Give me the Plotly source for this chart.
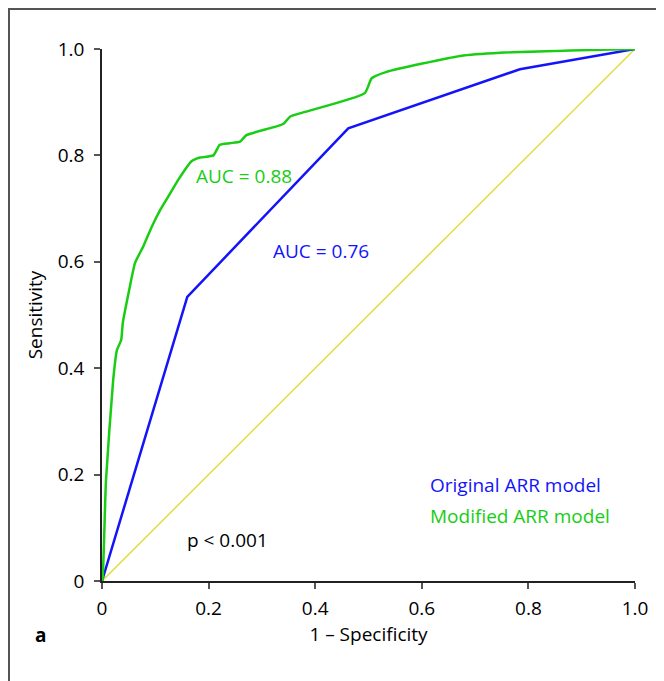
import plotly.graph_objects as go

# ROC curve points (1 - specificity, sensitivity)
modified_fpr = [0.0, 0.001, 0.0075, 0.021, 0.028, 0.036, 0.039, 0.051, 0.062, 0.077,
                0.093, 0.109, 0.124, 0.143, 0.168, 0.184, 0.209, 0.221, 0.240, 0.259,
                0.271, 0.340, 0.353, 0.371, 0.493, 0.506, 0.534, 0.672, 0.747, 1.0]
modified_tpr = [0.0, 0.002, 0.190, 0.378, 0.434, 0.453, 0.485, 0.547, 0.598, 0.628,
                0.665, 0.697, 0.722, 0.754, 0.789, 0.796, 0.800, 0.820, 0.823, 0.826,
                0.838, 0.859, 0.873, 0.879, 0.917, 0.945, 0.957, 0.987, 0.993, 1.0]

original_fpr = [0.0, 0.160, 0.462, 0.784, 1.0]
original_tpr = [0.0, 0.534, 0.851, 0.962, 1.0]

chance = [0.0, 1.0]

tick_vals = [0, 0.2, 0.4, 0.6, 0.8, 1.0]
tick_text = ["0", "0.2", "0.4", "0.6", "0.8", "1.0"]
y_tick_text = ["0", "0.2", "0.4", "0.6", "0.8", "1.0"]

GREEN = "rgb(25,205,20)"
BLUE = "rgb(20,20,250)"
YELLOW = "rgb(222,222,60)"
FONT = "Open Sans"
FS = 19

# page has an 8px body margin, so the figure is laid out 8px smaller
W, H = 656, 673
ML, MR, MT, MB = 94, 29, 41, 100
PW, PH = W - ML - MR, H - MT - MB

fig = go.Figure()
fig.add_trace(go.Scatter(x=chance, y=chance, mode="lines",
                         line={"color": YELLOW, "width": 1.5}))
fig.add_trace(go.Scatter(x=original_fpr, y=original_tpr, mode="lines",
                         line={"color": BLUE, "width": 2.5}))
fig.add_trace(go.Scatter(x=modified_fpr, y=modified_tpr, mode="lines",
                         line={"color": GREEN, "width": 2.5, "shape": "spline",
                               "smoothing": 0.5}))

notes = [
    (0.173, 0.761, "AUC = 0.88", GREEN),
    (0.317, 0.620, "AUC = 0.76", BLUE),
    (0.612, 0.180, "Original ARR model", BLUE),
    (0.612, 0.122, "Modified ARR model", GREEN),
    (0.156, 0.077, "p &lt; 0.001", "black"),
]
for x, y, txt, col in notes:
    fig.add_annotation(x=x, y=y, xref="x", yref="y", text=txt, showarrow=False,
                       xanchor="left", yanchor="middle",
                       font={"color": col, "size": FS, "family": FONT})

fig.add_annotation(x=(32 - ML) / PW, y=(H - MB - 627) / PH, xref="paper", yref="paper",
                   text="<b>a</b>", showarrow=False, xanchor="center", yanchor="middle",
                   font={"color": "black", "size": FS, "family": FONT})

# frame around the panel (only left and top edges are visible in the crop)
fig.add_shape(type="rect", xref="paper", yref="paper",
              x0=(1 - ML) / PW, x1=1.3, y0=-0.4, y1=(H - MB - 1) / PH,
              line={"color": "#555555", "width": 2})

axis_common = dict(range=[0, 1], tickvals=tick_vals, showgrid=False, zeroline=False,
                   showline=True, linecolor="#222222", linewidth=1.5,
                   ticks="outside", ticklen=6, tickcolor="#555555", tickwidth=1.5,
                   tickfont={"size": FS, "family": FONT, "color": "black"})

fig.update_xaxes(ticktext=tick_text, ticklabelstandoff=3,
                 title={"text": "1 – Specificity", "standoff": 8,
                        "font": {"size": FS, "family": FONT, "color": "black"}},
                 **axis_common)
fig.update_yaxes(ticktext=y_tick_text, ticklabelstandoff=6,
                 title={"text": "Sensitivity", "standoff": 10,
                        "font": {"size": FS, "family": FONT, "color": "black"}},
                 **axis_common)

fig.update_layout(width=W, height=H, showlegend=False,
                  margin={"l": ML, "r": MR, "t": MT, "b": MB},
                  plot_bgcolor="white", paper_bgcolor="white",
                  font={"family": FONT})

fig.write_html("out.html")
